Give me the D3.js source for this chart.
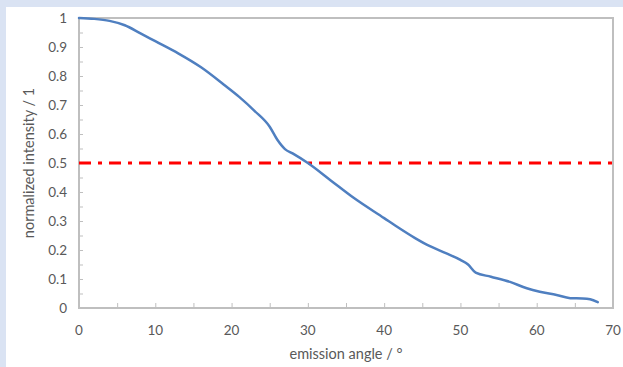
<!DOCTYPE html>
<html>
<head>
<meta charset="utf-8">
<script src="https://cdn.jsdelivr.net/npm/d3@7"></script>
<style>
  html, body { margin: 0; padding: 0; background: #dae3f3; }
  svg { display: block; }
</style>
</head>
<body>
<svg id="chart" width="623" height="367"></svg>
<script>
// emission angle (deg) and normalized intensity
const angles = [0, 2, 4, 6, 8, 10, 13, 16, 19, 21, 23, 25, 26, 27, 28, 30, 33, 36, 40, 42, 44, 46, 48, 50, 51, 52, 54, 56.5, 58.7, 60.4, 62.6, 64.4, 66, 67, 68];
const intensity = [1.0, 0.997, 0.99, 0.975, 0.948, 0.92, 0.878, 0.83, 0.77, 0.728, 0.68, 0.625, 0.58, 0.548, 0.533, 0.5, 0.44, 0.38, 0.31, 0.275, 0.242, 0.213, 0.19, 0.166, 0.15, 0.122, 0.108, 0.09, 0.068, 0.056, 0.045, 0.034, 0.033, 0.03, 0.02];
const halfLevel = [0.5];
const xTicks = [0, 10, 20, 30, 40, 50, 60, 70];
const yTicks = [0, 0.1, 0.2, 0.3, 0.4, 0.5, 0.6, 0.7, 0.8, 0.9, 1];

const svg = d3.select("#chart");
const font = "Lato, 'Open Sans', sans-serif";
const textCol = "#595959";
const gridCol = "#bfbfbf";

// white panel
svg.append("rect")
  .attr("x", 6).attr("y", 7)
  .attr("width", 623 - 6).attr("height", 367 - 7)
  .attr("fill", "#ffffff");

const x = d3.scaleLinear().domain([0, 70]).range([79, 613]);
const y = d3.scaleLinear().domain([0, 1]).range([308, 18]);

// plot frame
svg.append("rect")
  .attr("x", x(0)).attr("y", y(1))
  .attr("width", x(70) - x(0)).attr("height", y(0) - y(1))
  .attr("fill", "none")
  .attr("stroke", gridCol)
  .attr("stroke-width", 2);

// inside ticks every 5 deg / 0.05
const xAxis = svg.append("g")
  .attr("transform", `translate(0,${y(0)})`)
  .call(d3.axisBottom(x).tickValues(d3.range(0, 71, 5)).tickSize(-5).tickFormat(""));
xAxis.select(".domain").remove();
xAxis.selectAll("line").attr("stroke", gridCol);

const yAxis = svg.append("g")
  .attr("transform", `translate(${x(0)},0)`)
  .call(d3.axisLeft(y).tickValues(d3.range(0, 1.001, 0.05)).tickSize(-4).tickFormat(""));
yAxis.select(".domain").remove();
yAxis.selectAll("line").attr("stroke", gridCol);

// tick labels
svg.append("g").selectAll("text")
  .data(xTicks).enter().append("text")
  .attr("x", d => x(d))
  .attr("y", 335)
  .attr("text-anchor", "middle")
  .attr("fill", textCol)
  .style("font-family", font)
  .style("font-size", "13.5px")
  .text(d => d);

svg.append("g").selectAll("text")
  .data(yTicks).enter().append("text")
  .attr("x", 67)
  .attr("y", d => y(d) + 4.5)
  .attr("text-anchor", "end")
  .attr("fill", textCol)
  .style("font-family", font)
  .style("font-size", "13.5px")
  .text(d => d);

// axis titles
svg.append("text")
  .attr("x", 346).attr("y", 359)
  .attr("text-anchor", "middle")
  .attr("fill", textCol)
  .style("font-family", font)
  .style("font-size", "14.5px")
  .text("emission angle / °");

svg.append("text")
  .attr("transform", `translate(34,${y(0.5)}) rotate(-90)`)
  .attr("text-anchor", "middle")
  .attr("fill", textCol)
  .style("font-family", font)
  .style("font-size", "14.5px")
  .text("normalized intensity / 1");

// 50% reference line
svg.append("g").selectAll("line")
  .data(halfLevel).enter().append("line")
  .attr("x1", x(0)).attr("x2", x(70))
  .attr("y1", d => y(d)).attr("y2", d => y(d))
  .attr("stroke", "#ff0000")
  .attr("stroke-width", 3)
  .attr("stroke-dasharray", "12,7,4,7");

// measured curve
const pts = angles.map((a, i) => [a, intensity[i]]);
svg.append("path")
  .datum(pts)
  .attr("fill", "none")
  .attr("stroke", "#4f7fc0")
  .attr("stroke-width", 2.5)
  .attr("stroke-linecap", "round")
  .attr("d", d3.line().x(d => x(d[0])).y(d => y(d[1])).curve(d3.curveMonotoneX));
</script>
</body>
</html>
